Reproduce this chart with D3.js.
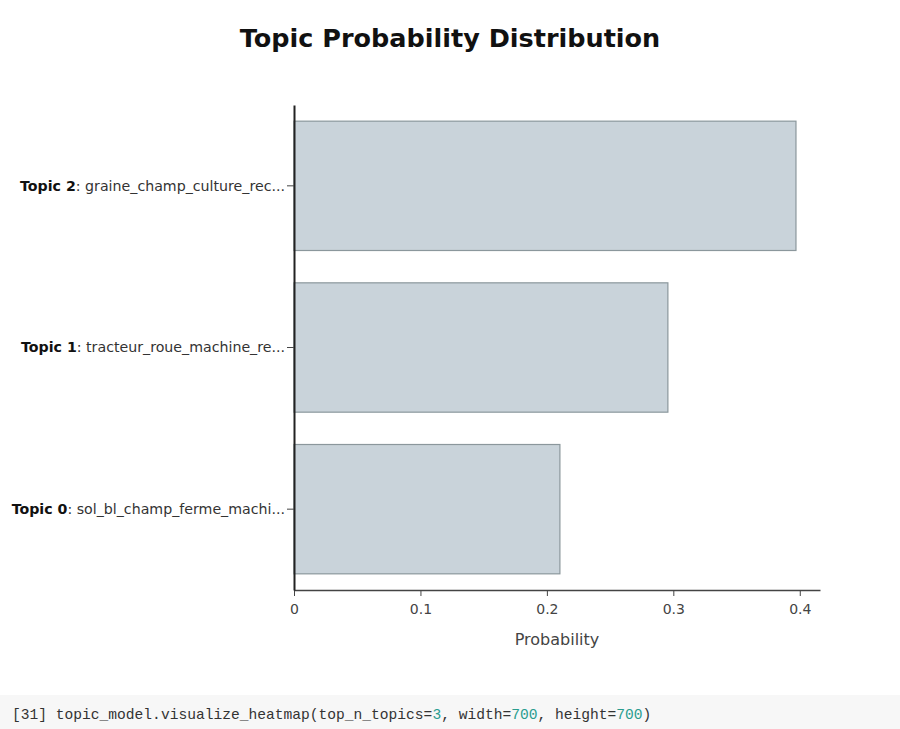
<!DOCTYPE html>
<html>
<head>
<meta charset="utf-8">
<script src="https://cdn.jsdelivr.net/npm/d3@7"></script>
<style>
  body { margin: 0; background: #fff; }
  svg { display: block; }
</style>
</head>
<body>
<svg></svg>
<script>
(function (d3) {
    // data
    const topics = ["Topic 2", "Topic 1", "Topic 0"];
    const words = ["graine_champ_culture_rec...", "tracteur_roue_machine_re...", "sol_bl_champ_ferme_machi..."];
    const probs = [0.397, 0.2957, 0.2103];
    const xTicks = [0, 0.1, 0.2, 0.3, 0.4];

    const width = 900, height = 729;
    const m = {left: 294, right: 80, top: 105, bottom: 139};
    const font = "'DejaVu Sans', Verdana, sans-serif";

    const svg = d3.select("svg").attr("width", width).attr("height", height);

    svg.append("text")
        .attr("x", 450).attr("y", 47)
        .attr("text-anchor", "middle")
        .attr("font-family", font)
        .attr("font-weight", "bold")
        .attr("font-size", 25.5)
        .attr("fill", "#111")
        .text("Topic Probability Distribution");

    const x = d3.scaleLinear().domain([0, 0.416]).range([m.left, width - m.right]);
    const y = d3.scaleBand().domain(topics).range([m.top, height - m.bottom]).paddingInner(0.2).paddingOuter(0.1);

    const rows = topics.map((t, i) => ({topic: t, words: words[i], p: probs[i]}));

    svg.selectAll("rect.bar").data(rows).enter()
        .append("rect")
        .attr("class", "bar")
        .attr("x", x(0))
        .attr("y", d => y(d.topic))
        .attr("width", d => x(d.p) - x(0))
        .attr("height", y.bandwidth())
        .attr("fill", "#c9d3da")
        .attr("stroke", "#8b979c")
        .attr("stroke-width", 1.2);

    // x axis
    const xa = svg.append("g")
        .attr("transform", `translate(0,${height - m.bottom})`)
        .call(d3.axisBottom(x).tickValues(xTicks).tickFormat(d => d === 0 ? "0" : d3.format(".1f")(d)).tickSize(6).tickSizeOuter(0));
    xa.select(".domain").attr("stroke", "#444").attr("stroke-width", 1.5);
    xa.selectAll(".tick line").attr("stroke", "#444");
    xa.selectAll("text").attr("font-family", font).attr("font-size", 14).attr("fill", "#444").attr("dy", "1.05em");

    svg.append("text")
        .attr("x", (x(0) + x(0.416)) / 2).attr("y", 645)
        .attr("text-anchor", "middle")
        .attr("font-family", font)
        .attr("font-size", 16)
        .attr("fill", "#444")
        .text("Probability");

    // y axis
    const ya = svg.append("g")
        .attr("transform", `translate(${m.left},0)`)
        .call(d3.axisLeft(y).tickSize(7).tickSizeOuter(0).tickFormat(""));
    ya.select(".domain").attr("stroke", "#222").attr("stroke-width", 2);
    ya.selectAll(".tick line").attr("stroke", "#444");

    ya.selectAll(".tick").each(function (t, i) {
        const txt = d3.select(this).append("text")
            .attr("x", -9).attr("dy", "0.35em")
            .attr("text-anchor", "end")
            .attr("font-family", font)
            .attr("font-size", 14.2)
            .attr("fill", "#333");
        txt.append("tspan").attr("font-weight", "bold").attr("fill", "#111").text(t);
        txt.append("tspan").text(": " + words[i]);
    });

    // notebook cell below
    svg.append("rect").attr("x", 0).attr("y", 695).attr("width", width).attr("height", 34).attr("fill", "#f7f7f7");
    const code = svg.append("text")
        .attr("x", 12).attr("y", 719)
        .attr("font-family", "'Liberation Mono', 'DejaVu Sans Mono', monospace")
        .attr("font-size", 14.6)
        .attr("fill", "#333");
    const parts = [["[31] topic_model.visualize_heatmap(top_n_topics=", "#333"], ["3", "#2a9d8f"],
                   [", width=", "#333"], ["700", "#2a9d8f"], [", height=", "#333"], ["700", "#2a9d8f"], [")", "#333"]];
    parts.forEach(p => code.append("tspan").attr("fill", p[1]).text(p[0]));
})(d3);
</script>
</body>
</html>
